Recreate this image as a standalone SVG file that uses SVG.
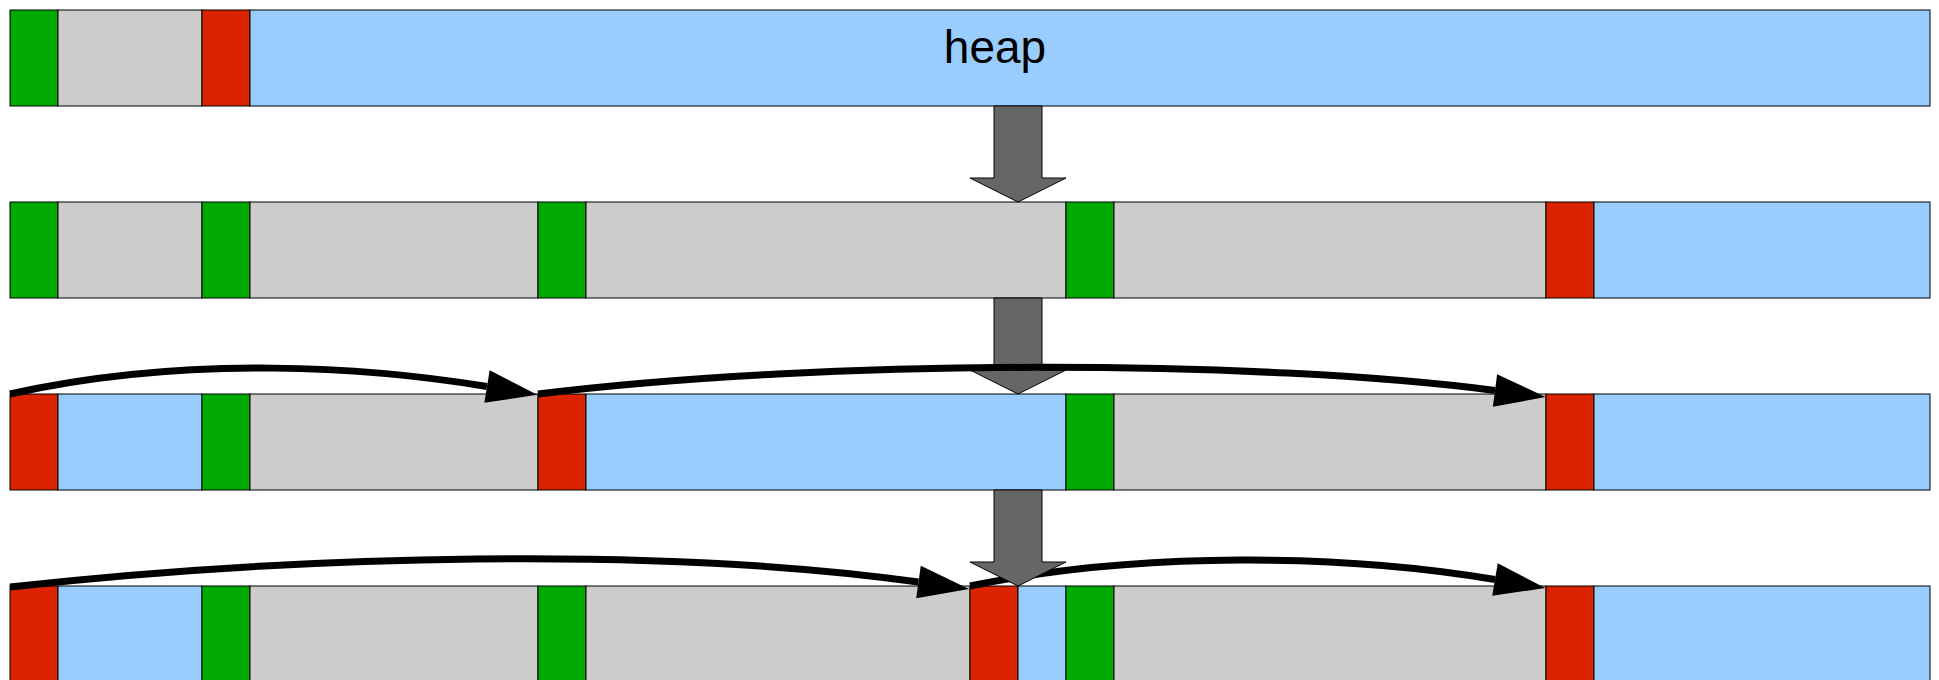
<svg xmlns="http://www.w3.org/2000/svg" width="1939" height="680" viewBox="0 0 1939 680">
  <style>
    .blk { stroke: #000; stroke-width: 1; }
    .used { fill: #00aa00; }
    .data { fill: #cccccc; }
    .free { fill: #dc2300; }
    .heap { fill: #99ccff; }
    .step { fill: #666666; stroke: #000; stroke-width: 1; }
    .link { fill: none; stroke: #000; stroke-width: 7; marker-end: url(#head); }
    .label { font-family: "Liberation Sans", Arial, sans-serif; font-size: 46px; fill: #000; }
  </style>
  <defs>
    <marker id="head" markerUnits="userSpaceOnUse" viewBox="0 -17 52 34" refX="0" refY="0"
            markerWidth="52" markerHeight="34" orient="auto" overflow="visible">
      <path d="M0,-16.5 L51,0 L0,16.5 z" fill="#000"/>
    </marker>
  </defs>

  <rect width="1939" height="680" fill="#fff"/>

  <!-- Row 1: initial heap -->
  <g id="row1">
    <rect class="blk used" x="10" y="10" width="48" height="96"/>
    <rect class="blk data" x="58" y="10" width="144" height="96"/>
    <rect class="blk free" x="202" y="10" width="48" height="96"/>
    <rect class="blk heap" x="250" y="10" width="1680" height="96"/>
    <text class="label" x="995" y="63" text-anchor="middle">heap</text>
  </g>

  <!-- Row 2: after allocations -->
  <g id="row2">
    <rect class="blk used" x="10" y="202" width="48" height="96"/>
    <rect class="blk data" x="58" y="202" width="144" height="96"/>
    <rect class="blk used" x="202" y="202" width="48" height="96"/>
    <rect class="blk data" x="250" y="202" width="288" height="96"/>
    <rect class="blk used" x="538" y="202" width="48" height="96"/>
    <rect class="blk data" x="586" y="202" width="480" height="96"/>
    <rect class="blk used" x="1066" y="202" width="48" height="96"/>
    <rect class="blk data" x="1114" y="202" width="432" height="96"/>
    <rect class="blk free" x="1546" y="202" width="48" height="96"/>
    <rect class="blk heap" x="1594" y="202" width="336" height="96"/>
  </g>

  <!-- Row 3: two blocks freed -->
  <g id="row3">
    <rect class="blk free" x="10" y="394" width="48" height="96"/>
    <rect class="blk heap" x="58" y="394" width="144" height="96"/>
    <rect class="blk used" x="202" y="394" width="48" height="96"/>
    <rect class="blk data" x="250" y="394" width="288" height="96"/>
    <rect class="blk free" x="538" y="394" width="48" height="96"/>
    <rect class="blk heap" x="586" y="394" width="480" height="96"/>
    <rect class="blk used" x="1066" y="394" width="48" height="96"/>
    <rect class="blk data" x="1114" y="394" width="432" height="96"/>
    <rect class="blk free" x="1546" y="394" width="48" height="96"/>
    <rect class="blk heap" x="1594" y="394" width="336" height="96"/>
  </g>

  <!-- Row 4: free block split by a new allocation -->
  <g id="row4">
    <rect class="blk free" x="10" y="586" width="48" height="96"/>
    <rect class="blk heap" x="58" y="586" width="144" height="96"/>
    <rect class="blk used" x="202" y="586" width="48" height="96"/>
    <rect class="blk data" x="250" y="586" width="288" height="96"/>
    <rect class="blk used" x="538" y="586" width="48" height="96"/>
    <rect class="blk data" x="586" y="586" width="384" height="96"/>
    <rect class="blk free" x="970" y="586" width="48" height="96"/>
    <rect class="blk heap" x="1018" y="586" width="48" height="96"/>
    <rect class="blk used" x="1066" y="586" width="48" height="96"/>
    <rect class="blk data" x="1114" y="586" width="432" height="96"/>
    <rect class="blk free" x="1546" y="586" width="48" height="96"/>
    <rect class="blk heap" x="1594" y="586" width="336" height="96"/>
  </g>

  <!-- Step arrows between rows (first two sit under the free-list links) -->
  <g id="step1">
    <polygon class="step" points="994,106 1042,106 1042,178 1066,178 1018,202 970,178 994,178"/>
  </g>
  <g id="step2">
    <polygon class="step" points="994,298 1042,298 1042,370 1066,370 1018,394 970,370 994,370"/>
  </g>

  <!-- Free-list links -->
  <g id="connectors">
    <path class="link" d="M10,394 C190,354 372,367.5 487,386.5"/>
    <path class="link" d="M538,394 C830,358 1260,360 1495,390.5"/>
    <path class="link" d="M10,587 C300,555 660,546 918.5,582"/>
    <path class="link" d="M970,586 C1140,551 1345,554 1495,579.5"/>
  </g>

  <g id="step3">
    <polygon class="step" points="994,490 1042,490 1042,562 1066,562 1018,586 970,562 994,562"/>
  </g>
</svg>
